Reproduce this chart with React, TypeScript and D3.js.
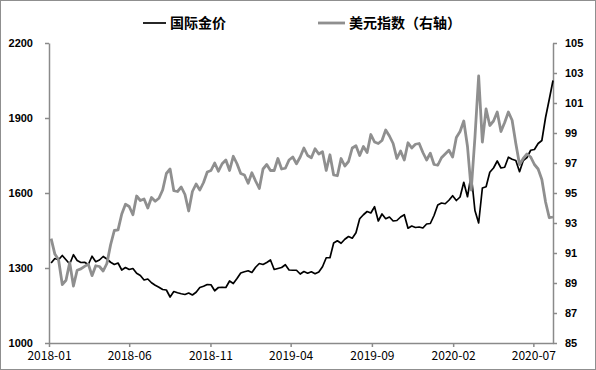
import React, { Component } from 'react'
import * as d3 from 'd3'

// weekly closes, one value per Friday from 2018-01-05 to 2020-08-07
const gold2018 = [1320, 1338, 1333, 1350, 1333, 1316, 1353, 1330, 1322, 1323, 1314, 1347, 1325,
  1332, 1346, 1336, 1323, 1314, 1320, 1292, 1302, 1294, 1298, 1279, 1270, 1252,
  1256, 1241, 1231, 1223, 1214, 1212, 1184, 1206, 1201, 1197, 1194, 1200, 1192,
  1203, 1222, 1227, 1234, 1233, 1209, 1222, 1223, 1222, 1248, 1238, 1258, 1280]
const gold2019 = [1285, 1289, 1282, 1303, 1318, 1314, 1322, 1332, 1294, 1298, 1302, 1313, 1292,
  1291, 1291, 1276, 1286, 1279, 1285, 1277, 1284, 1305, 1341, 1341, 1400, 1409,
  1399, 1415, 1426, 1419, 1441, 1497, 1513, 1526, 1520, 1545, 1488, 1516, 1497,
  1504, 1488, 1490, 1504, 1513, 1459, 1468, 1462, 1464, 1460, 1476, 1478, 1510]
const gold2020 = [1552, 1560, 1557, 1571, 1589, 1570, 1584, 1643, 1585, 1674, 1530, 1480, 1620,
  1625, 1683, 1700, 1728, 1700, 1703, 1743, 1735, 1730, 1685, 1730, 1742, 1771,
  1774, 1798, 1810, 1902, 1975, 2050]

const dxy2018 = [91.96, 90.93, 90.55, 88.9, 89.18, 90.36, 88.8, 89.85, 89.94, 90.11, 90.26, 89.49, 90.15,
  90.1, 89.8, 90.3, 91.55, 92.5, 92.54, 93.6, 94.25, 94.1, 93.55, 94.8, 94.5, 94.6,
  94.0, 94.7, 94.45, 94.65, 95.2, 96.3, 96.6, 95.15, 95.1, 95.4, 94.9, 93.8, 95.1,
  95.6, 95.2, 95.7, 96.4, 96.5, 97.0, 96.45, 96.95, 97.2, 96.5, 97.45, 96.95, 96.3]
const dxy2019 = [96.2, 95.65, 96.35, 95.8, 95.3, 96.6, 96.9, 96.5, 96.5, 97.3, 96.6, 96.65, 97.2,
  97.4, 96.95, 97.4, 98.0, 97.5, 97.35, 97.95, 97.6, 97.75, 96.5, 97.55, 96.2, 96.15,
  97.3, 96.8, 97.1, 98.0, 98.15, 97.5, 98.1, 97.7, 98.9, 98.4, 98.3, 98.5, 99.2,
  98.8, 98.3, 97.3, 97.8, 97.2, 98.35, 98.0, 98.25, 98.3, 97.7, 97.2, 97.65, 96.9]
const dxy2020 = [96.85, 97.35, 97.6, 97.85, 97.4, 98.7, 99.1, 99.8, 98.1, 95.2, 98.7, 102.8, 98.4,
  100.6, 99.5, 99.8, 100.4, 99.1, 99.7, 100.4, 99.85, 98.3, 96.9, 97.3, 97.6, 97.4,
  96.9, 96.6, 95.9, 94.4, 93.35, 93.4]

const seriesNames = ['国际金价', '美元指数（右轴）']
const leftTicks = [1000, 1300, 1600, 1900, 2200]
const rightTicks = [85, 87, 89, 91, 93, 95, 97, 99, 101, 103, 105]
const xTickLabels = ['2018-01', '2018-06', '2018-11', '2019-04', '2019-09', '2020-02', '2020-07']

class App extends Component {
  node: SVGSVGElement | null = null

  componentDidMount() {
    this.createChart()
  }
  componentDidUpdate() {
    this.createChart()
  }

  createChart() {
    const svg = d3.select(this.node)
    svg.selectAll('*').remove()

    const width = 596, height = 370
    const left = 49, right = 553, top = 43, bottom = 343
    const axisColor = '#8a8a8a'
    const numFont = '"Liberation Sans", Arial, sans-serif'
    const cjkFont = '"Noto Sans CJK SC", sans-serif'

    const dates = d3.timeFriday.range(new Date(2018, 0, 1), new Date(2020, 7, 8))
    const gold = gold2018.concat(gold2019, gold2020)
    const dxy = dxy2018.concat(dxy2019, dxy2020)
    const goldData = dates.map((d, i) => ({ d, v: gold[i] }))
    const dxyData = dates.map((d, i) => ({ d, v: dxy[i] }))

    const x = d3.scaleTime()
      .domain([new Date(2018, 0, 1), new Date(2020, 7, 7)])
      .range([left, right])
    const yL = d3.scaleLinear().domain([1000, 2200]).range([bottom, top])
    const yR = d3.scaleLinear().domain([85, 105]).range([bottom, top])

    svg.attr('width', width).attr('height', height)

    svg.append('rect')
      .attr('x', 0.5).attr('y', 0.5)
      .attr('width', width - 1).attr('height', height - 1)
      .attr('fill', '#fff')
      .attr('stroke', '#8f8f8f')

    const parse = d3.timeParse('%Y-%m')
    const xAxis = d3.axisBottom(x)
      .tickValues(xTickLabels.map(s => parse(s) as Date))
      .tickFormat((d, i) => xTickLabels[i])
      .tickSize(4).tickSizeOuter(0).tickPadding(4)
    const gx = svg.append('g').attr('transform', `translate(0,${bottom})`).call(xAxis)
    gx.selectAll('text').attr('font-family', cjkFont).attr('font-size', 12).attr('fill', '#000')

    const leftAxis = d3.axisLeft(yL).tickValues(leftTicks)
      .tickFormat(d3.format('d'))
      .tickSize(4).tickSizeOuter(0).tickPadding(12)
    const gl = svg.append('g').attr('transform', `translate(${left},0)`).call(leftAxis)
    gl.selectAll('text').attr('font-family', numFont).attr('font-size', 11)
      .attr('font-weight', 'bold').attr('fill', '#000')

    const rightAxis = d3.axisRight(yR).tickValues(rightTicks)
      .tickFormat(d3.format('d'))
      .tickSize(4).tickSizeOuter(0).tickPadding(8)
    const gr = svg.append('g').attr('transform', `translate(${right},0)`).call(rightAxis)
    gr.selectAll('text').attr('font-family', numFont).attr('font-size', 11)
      .attr('font-weight', 'bold').attr('fill', '#000')

    svg.selectAll('.domain, .tick line')
      .attr('stroke', axisColor).attr('stroke-width', 1.5)

    const goldLine = d3.line<any>()
      .defined(p => p.v != null)
      .x(p => x(p.d)).y(p => yL(p.v))
    const dxyLine = d3.line<any>()
      .defined(p => p.v != null)
      .x(p => x(p.d)).y(p => yR(p.v))

    svg.append('path')
      .attr('d', goldLine(goldData))
      .attr('fill', 'none').attr('stroke', '#000')
      .attr('stroke-width', 1.7).attr('stroke-linejoin', 'round')
    svg.append('path')
      .attr('d', dxyLine(dxyData))
      .attr('fill', 'none').attr('stroke', '#8f8f8f')
      .attr('stroke-width', 2.8).attr('stroke-linejoin', 'round')

    // legend
    const legend = [
      { name: seriesNames[0], color: '#000', w: 1.7, x0: 143, x1: 166 },
      { name: seriesNames[1], color: '#8f8f8f', w: 2.8, x0: 318, x1: 345 }
    ]
    legend.forEach(item => {
      svg.append('line')
        .attr('x1', item.x0).attr('x2', item.x1)
        .attr('y1', 23).attr('y2', 23)
        .attr('stroke', item.color).attr('stroke-width', item.w)
      svg.append('text')
        .attr('x', item.x1 + 4).attr('y', 23).attr('dy', '0.36em')
        .attr('font-family', cjkFont).attr('font-size', 14)
        .attr('font-weight', 'bold').attr('fill', '#000')
        .text(item.name)
    })
  }

  render() {
    return <svg ref={node => { this.node = node }}
      style={{ position: 'absolute', left: 0, top: 0, display: 'block' }}></svg>
  }
}

export default App
